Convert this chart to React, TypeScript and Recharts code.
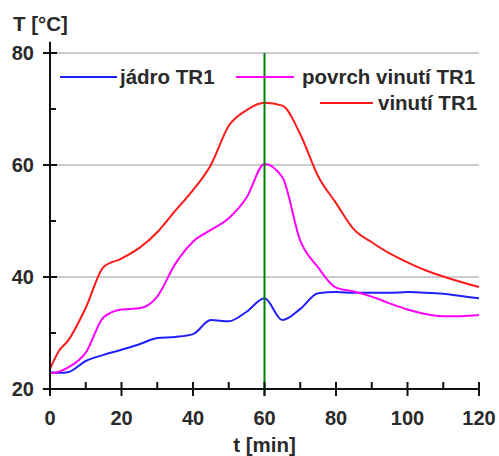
import { LineChart, Line, XAxis, YAxis, ReferenceLine, Legend } from 'recharts';

const time = [0, 2.5, 5, 10, 15, 20, 25, 30, 35, 40, 45, 50, 55, 60, 65, 70, 75, 80, 85, 90, 95, 100, 105, 110, 115, 120];
const jadro = [23, 22.9, 23, 25, 26.1, 27, 28, 29.1, 29.3, 29.8, 32.3, 32.1, 33.8, 36.2, 32.3, 34.3, 37.1, 37.3, 37.2, 37.2, 37.2, 37.3, 37.2, 37, 36.6, 36.2];
const povrch = [22.8, 23.1, 23.8, 26.5, 32.8, 34.2, 34.4, 36.5, 42.3, 46.3, 48.4, 50.5, 54.2, 60.2, 57.8, 46.5, 41.7, 38.1, 37.4, 36.5, 35.3, 34.2, 33.4, 33, 33, 33.2];
const vinuti = [23.6, 26.8, 28.6, 34.5, 41.8, 43.3, 45.2, 48, 51.8, 55.5, 60, 67, 69.8, 71.1, 70.6, 65.5, 58, 53.2, 48.5, 46.2, 44.2, 42.6, 41.2, 40.1, 39.1, 38.2];

const xTicks = [0, 10, 20, 30, 40, 50, 60, 70, 80, 90, 100, 110, 120];
const yTicks = [20, 30, 40, 50, 60, 70, 80];
const gridValues = [40, 60, 80];

const data = time.map((t, i) => ({ t, jadro: jadro[i], povrch: povrch[i], vinuti: vinuti[i] }));

const font = '"Liberation Sans", Arial, sans-serif';
const textColor = '#2a2a2a';

const YTick = (props: any) => {
    const { x, y, payload } = props;
    const major = payload.value % 20 === 0;
    if (!major) {
        return <line x1={x} x2={x + 6} y1={y} y2={y} stroke="#111" strokeWidth={2} />;
    }
    return (
        <g>
            <line x1={x - 7} x2={x + 7} y1={y} y2={y} stroke="#111" strokeWidth={2} />
            <text x={x - 16} y={y} dy="0.36em" textAnchor="end" fontSize={20} fontWeight="bold" fontFamily={font} fill={textColor}>
                {payload.value}
            </text>
        </g>
    );
};

const XTick = (props: any) => {
    const { x, y, payload } = props;
    const major = payload.value % 20 === 0;
    if (!major) {
        return <line x1={x} x2={x} y1={y - 7} y2={y} stroke="#111" strokeWidth={2} />;
    }
    return (
        <g>
            <line x1={x} x2={x} y1={y - 7} y2={y + 7} stroke="#111" strokeWidth={2} />
            <text x={x} y={y + 36} textAnchor="middle" fontSize={20} fontWeight="bold" fontFamily={font} fill={textColor}>
                {payload.value}
            </text>
        </g>
    );
};

const legendText = { fontSize: 20.5, fontWeight: 'bold' as const, fontFamily: font, fill: textColor };

const renderLegend = () => (
    <svg width={499} height={120} style={{ display: 'block' }}>
        <line x1={60} x2={117} y1={77} y2={77} stroke="#2020ff" strokeWidth={2} />
        <text x={120} y={84} {...legendText}>jádro TR1</text>
        <line x1={236} x2={294} y1={77} y2={77} stroke="#ff00ff" strokeWidth={2} />
        <text x={302} y={84} {...legendText}>povrch vinutí TR1</text>
        <line x1={320} x2={373} y1={103} y2={103} stroke="#ff1a1a" strokeWidth={2} />
        <text x={378} y={110} {...legendText}>vinutí TR1</text>
        <text x={13} y={31} {...legendText}>T [°C]</text>
    </svg>
);

export default function App() {
    return (
        <div style={{ position: 'absolute', left: 0, top: 0, width: 499, height: 456, background: '#fff' }}>
            <LineChart width={499} height={456} data={data} margin={{ top: 53, right: 20, bottom: 0, left: 0 }}>
                {gridValues.map((v) => (
                    <ReferenceLine key={v} y={v} stroke="#cccccc" strokeWidth={2} />
                ))}
                <XAxis
                    dataKey="t"
                    type="number"
                    domain={[0, 120]}
                    ticks={xTicks}
                    interval={0}
                    height={67}
                    tickSize={0}
                    tickMargin={0}
                    axisLine={false}
                    tickLine={false}
                    tick={<XTick />}
                    label={{
                        value: 't [min]',
                        position: 'insideBottom',
                        offset: 4,
                        style: { fontSize: 20.5, fontWeight: 'bold', fontFamily: font, fill: textColor },
                    }}
                />
                <YAxis
                    type="number"
                    domain={[20, 80]}
                    ticks={yTicks}
                    interval={0}
                    width={50}
                    tickSize={0}
                    tickMargin={0}
                    axisLine={false}
                    tickLine={false}
                    tick={<YTick />}
                />
                <Line type="monotone" dataKey="jadro" stroke="#2020ff" strokeWidth={2} dot={false} isAnimationActive={false} />
                <Line type="monotone" dataKey="povrch" stroke="#ff00ff" strokeWidth={2} dot={false} isAnimationActive={false} />
                <Line type="monotone" dataKey="vinuti" stroke="#ff1a1a" strokeWidth={2} dot={false} isAnimationActive={false} />
                <ReferenceLine segment={[{ x: 60, y: 18.9 }, { x: 60, y: 80 }]} stroke="#008000" strokeWidth={2} ifOverflow="visible" />
                <ReferenceLine segment={[{ x: 0, y: 18.9 }, { x: 0, y: 82 }]} stroke="#111" strokeWidth={2} ifOverflow="visible" />
                <ReferenceLine segment={[{ x: -2, y: 20 }, { x: 120, y: 20 }]} stroke="#111" strokeWidth={2} ifOverflow="visible" />
                <Legend
                    layout="vertical"
                    align="center"
                    verticalAlign="middle"
                    content={renderLegend}
                    wrapperStyle={{ position: 'absolute', top: 0, left: 0, width: 499, height: 120 }}
                />
            </LineChart>
        </div>
    );
}
